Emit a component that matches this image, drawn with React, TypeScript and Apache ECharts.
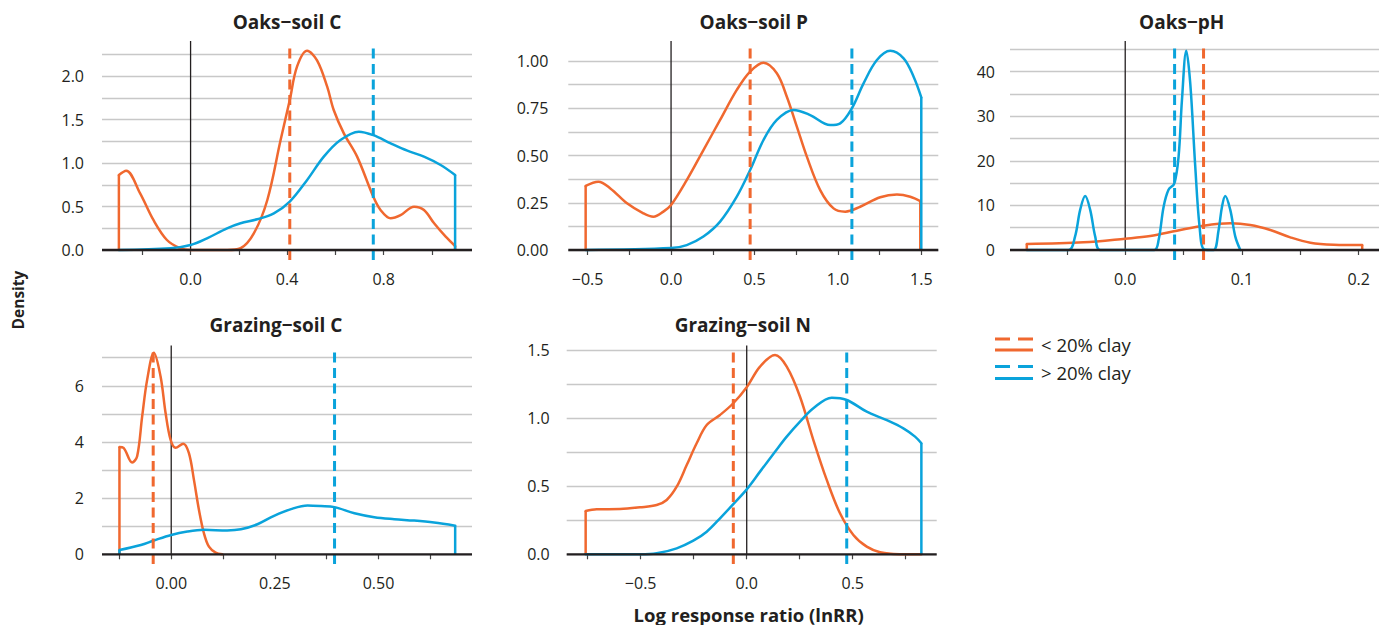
import React, { useEffect, useRef } from "react";
import * as echarts from "echarts";

type Pt = [number, number];

// ---------- data ----------
const panelTitles = ["Oaks\u2212soil C", "Oaks\u2212soil P", "Oaks\u2212pH", "Grazing\u2212soil C", "Grazing\u2212soil N"];
const legendLabels = ["< 20% clay", "> 20% clay"];
const xAxisTitle = "Log response ratio (lnRR)";
const yAxisTitle = "Density";

// Oaks–soil C
const oaksSoilCLow: Pt[] = [[-0.297,0.862],[-0.267,0.912],[-0.209,0.651],[-0.154,0.345],[-0.098,0.115],[-0.043,0.02],[0.0,0.0],[0.151,0.0],[0.207,0.02],[0.262,0.19],[0.318,0.575],[0.373,1.264],[0.411,1.724],[0.441,2.107],[0.483,2.29],[0.524,2.18],[0.566,1.877],[0.593,1.609],[0.635,1.341],[0.69,1.073],[0.757,0.613],[0.787,0.46],[0.829,0.364],[0.87,0.4],[0.926,0.498],[0.967,0.46],[1.009,0.307],[1.057,0.153],[1.096,0.046]];
const oaksSoilCHigh: Pt[] = [[-0.297,0],[-0.082,0.02],[0,0.057],[0.068,0.134],[0.151,0.249],[0.207,0.307],[0.276,0.353],[0.345,0.421],[0.411,0.556],[0.483,0.805],[0.552,1.073],[0.621,1.264],[0.697,1.36],[0.757,1.32],[0.829,1.226],[0.898,1.142],[0.967,1.073],[1.036,0.977],[1.096,0.862]];

// Oaks–soil P
const oaksSoilPLow: Pt[] = [[-0.512,0.339],[-0.436,0.361],[-0.364,0.326],[-0.264,0.247],[-0.166,0.194],[-0.106,0.176],[-0.046,0.203],[0,0.238],[0.094,0.37],[0.194,0.529],[0.294,0.688],[0.394,0.847],[0.474,0.944],[0.554,0.991],[0.634,0.935],[0.694,0.811],[0.754,0.653],[0.814,0.494],[0.894,0.317],[0.974,0.22],[1.044,0.203],[1.134,0.229],[1.254,0.279],[1.354,0.293],[1.434,0.282],[1.494,0.259]];
const oaksSoilPHigh: Pt[] = [[-0.512,0],[0,0.01],[0.094,0.026],[0.194,0.071],[0.294,0.15],[0.394,0.282],[0.474,0.423],[0.554,0.582],[0.634,0.688],[0.734,0.741],[0.834,0.714],[0.954,0.661],[1.014,0.67],[1.084,0.75],[1.154,0.882],[1.234,1.005],[1.314,1.054],[1.394,1.014],[1.454,0.917],[1.5,0.808]];

// Oaks–pH
const oaksPHLow: Pt[] = [[-0.0843,1.35],[-0.0357,1.72],[0,2.54],[0.0214,3.14],[0.0443,4.33],[0.0671,5.45],[0.09,5.98],[0.1071,5.6],[0.1243,4.48],[0.1414,2.84],[0.1586,1.64],[0.1786,1.2],[0.203,1.12]];
const oaksPHHigh: Pt[] = [[-0.0843,0],[-0.0486,0],[-0.043,3.0],[-0.0386,9.0],[-0.0343,12.1],[-0.03,9.0],[-0.0257,3.0],[-0.0214,0],[0.0249,0],[0.0286,2.24],[0.0329,9.7],[0.0371,13.5],[0.042,14.9],[0.0457,20.9],[0.0486,33.6],[0.0523,44.7],[0.0557,37.4],[0.06,18.7],[0.0637,5.2],[0.0677,0.1],[0.0757,0],[0.08,4.5],[0.0829,9.7],[0.0857,12.1],[0.09,9.0],[0.0943,3.0],[0.0986,0]];

// Grazing–soil C
const grazingSoilCLow: Pt[] = [[-0.1249,3.82],[-0.115,3.79],[-0.0943,3.27],[-0.0822,3.49],[-0.0701,4.91],[-0.058,6.22],[-0.0419,7.18],[-0.0258,6.34],[-0.0137,5.04],[-0.0016,4.08],[0.0105,3.79],[0.029,3.94],[0.0427,3.6],[0.0548,2.65],[0.0669,1.58],[0.0789,0.75],[0.091,0.27],[0.1071,0.06],[0.1232,0]];
const grazingSoilCHigh: Pt[] = [[-0.1249,0.15],[-0.0733,0.33],[-0.042,0.49],[0,0.69],[0.039,0.81],[0.079,0.87],[0.135,0.85],[0.168,0.89],[0.208,1.07],[0.248,1.37],[0.289,1.61],[0.329,1.74],[0.361,1.72],[0.394,1.68],[0.442,1.46],[0.49,1.32],[0.538,1.25],[0.586,1.2],[0.634,1.13],[0.685,1.02]];

// Grazing–soil N
const grazingSoilNLow: Pt[] = [[-0.7596,0.318],[-0.7077,0.33],[-0.5976,0.332],[-0.5033,0.345],[-0.4247,0.362],[-0.3775,0.399],[-0.3303,0.496],[-0.283,0.655],[-0.236,0.815],[-0.1887,0.949],[-0.1259,1.023],[-0.0632,1.109],[0,1.226],[0.0627,1.378],[0.1335,1.463],[0.1887,1.378],[0.2514,1.157],[0.3143,0.839],[0.3774,0.546],[0.44,0.301],[0.503,0.142],[0.566,0.056],[0.6288,0.015],[0.6918,0.003],[0.755,0],[0.8237,0]];
const grazingSoilNHigh: Pt[] = [[-0.7596,0],[-0.5033,0],[-0.4247,0.007],[-0.3303,0.044],[-0.2517,0.1],[-0.1887,0.166],[-0.1259,0.264],[-0.0632,0.369],[0,0.477],[0.0627,0.607],[0.1335,0.753],[0.1887,0.864],[0.2514,0.974],[0.3143,1.072],[0.401,1.15],[0.4717,1.133],[0.566,1.047],[0.6604,0.985],[0.7388,0.925],[0.7939,0.864],[0.8237,0.815]];

const lowCurves: Pt[][] = [oaksSoilCLow, oaksSoilPLow, oaksPHLow, grazingSoilCLow, grazingSoilNLow];
const highCurves: Pt[][] = [oaksSoilCHigh, oaksSoilPHigh, oaksPHHigh, grazingSoilCHigh, grazingSoilNHigh];

// mean lines (dashed)
const meanLow = [0.411, 0.474, 0.0671, -0.0435, -0.0632];
const meanHigh = [0.757, 1.084, 0.0423, 0.394, 0.4717];

// axis ticks / labels
const xTicks = [
  [-0.2, 0, 0.2, 0.4, 0.6, 0.8, 1.0],
  [-0.5, -0.25, 0, 0.25, 0.5, 0.75, 1.0, 1.25, 1.5],
  [-0.05, 0, 0.05, 0.1, 0.15, 0.2],
  [-0.125, 0, 0.125, 0.25, 0.375, 0.5, 0.625],
  [-0.75, -0.5, -0.25, 0, 0.25, 0.5, 0.75],
];
const xLabels = [
  [0, 0.4, 0.8],
  [-0.5, 0, 0.5, 1.0, 1.5],
  [0, 0.1, 0.2],
  [0, 0.25, 0.5],
  [-0.5, 0, 0.5],
];
const xDigits = [1, 1, 1, 2, 1];
const xRange: [number, number][] = [[-0.367, 1.166], [-0.616, 1.602], [-0.0987, 0.2174], [-0.167, 0.7256], [-0.849, 0.896]];
const yMax = [2.25, 1.0, 45, 7, 1.5];
const yGridStep = [0.25, 0.125, 5, 1, 0.25];
const yLabelStep = [0.5, 0.25, 10, 2, 0.5];
const yDigits = [1, 2, 0, 0, 1];

// ---------- layout / style ----------
const ORANGE = "#F0682F";
const BLUE = "#0AA3DB";
const INK = "#231F20";
const GRIDC = "#C8C8C8";
const FONT = "'Open Sans', 'Noto Sans', sans-serif";

const layout = [
  { left: 102, top: 54.25, width: 370, height: 195.75, yMargin: 18, panelTop: 41, panelBottom: 260, titleX: 287, titleY: 21.5 },
  { left: 568.3, top: 61, width: 370, height: 189, yMargin: 20, panelTop: 41, panelBottom: 260, titleX: 753.7, titleY: 21.5 },
  { left: 1010, top: 49.3, width: 369, height: 200.7, yMargin: 15, panelTop: 41, panelBottom: 260, titleX: 1181.7, titleY: 21.5 },
  { left: 102, top: 357.7, width: 370, height: 196.6, yMargin: 18, panelTop: 345.5, panelBottom: 564, titleX: 276, titleY: 325 },
  { left: 566.7, top: 350, width: 370, height: 204.3, yMargin: 17, panelTop: 345.5, panelBottom: 564, titleX: 742.8, titleY: 325 },
];

const isMult = (v: number, s: number) => Math.abs(v / s - Math.round(v / s)) < 1e-6;
const fmt = (v: number, d: number) => {
  const s = Math.abs(v).toFixed(d);
  return v < -1e-9 ? "\u2212" + s : s;
};

function buildOption() {
  const grid: any[] = [];
  const xAxis: any[] = [];
  const yAxis: any[] = [];
  const series: any[] = [];
  const graphic: any[] = [];

  layout.forEach((L, i) => {
    grid.push({ left: L.left, top: L.top, width: L.width, height: L.height, containLabel: false });
    xAxis.push({
      type: "value",
      gridIndex: i,
      min: xRange[i][0],
      max: xRange[i][1],
      axisLine: { show: false },
      axisTick: { show: true, customValues: xTicks[i], length: 5, lineStyle: { color: "#444", width: 1.2 } },
      axisLabel: {
        customValues: xLabels[i],
        formatter: (v: number) => fmt(v, xDigits[i]),
        color: INK,
        fontSize: 16,
        fontFamily: FONT,
        margin: 21,
      },
      splitLine: { show: false },
    });
    yAxis.push({
      type: "value",
      gridIndex: i,
      min: 0,
      max: yMax[i],
      interval: yGridStep[i],
      axisLine: { show: false },
      axisTick: { show: false },
      axisLabel: {
        formatter: (v: number) => (isMult(v, yLabelStep[i]) ? fmt(v, yDigits[i]) : ""),
        color: INK,
        fontSize: 16,
        fontFamily: FONT,
        margin: L.yMargin,
      },
      splitLine: { show: true, lineStyle: { color: GRIDC, width: 1.3 } },
    });

    const pxPerUnit = L.height / yMax[i];
    const topVal = (L.top + L.height - L.panelTop) / pxPerUnit;
    const botVal = -(L.panelBottom - (L.top + L.height)) / pxPerUnit;

    const base = { xAxisIndex: i, yAxisIndex: i, type: "line", symbol: "none", clip: false, silent: true, animation: false };

    // zero reference line
    series.push({ ...base, data: [[0, 0], [0, topVal]], lineStyle: { color: INK, width: 1.3 } });

    const addCurve = (pts: Pt[], color: string) => {
      series.push({ ...base, data: pts, smooth: 0.35, lineStyle: { color, width: 2.5, cap: "round", join: "round" } });
      const f = pts[0];
      const l = pts[pts.length - 1];
      series.push({ ...base, data: [[f[0], 0], f], lineStyle: { color, width: 2.5 } });
      series.push({ ...base, data: [l, [l[0], 0]], lineStyle: { color, width: 2.5 } });
    };
    addCurve(lowCurves[i], ORANGE);
    addCurve(highCurves[i], BLUE);

    // dashed mean lines
    const dashTop = topVal - 0.015 * (topVal - botVal);
    series.push({ ...base, data: [[meanLow[i], botVal], [meanLow[i], dashTop]], lineStyle: { color: ORANGE, width: 3, type: [10, 5.5] } });
    series.push({ ...base, data: [[meanHigh[i], botVal], [meanHigh[i], dashTop]], lineStyle: { color: BLUE, width: 3, type: [10, 5.5] } });

    // baseline (drawn on top of curves)
    series.push({ ...base, data: [[xRange[i][0], 0], [xRange[i][1], 0]], lineStyle: { color: INK, width: 2.3 } });

    graphic.push({
      type: "text",
      x: L.titleX,
      y: L.titleY,
      style: { text: panelTitles[i], fill: INK, font: `bold 19px ${FONT}`, align: "center", verticalAlign: "middle", textAlign: "center", textVerticalAlign: "middle" },
    });
  });

  graphic.push({
    type: "text",
    x: 18,
    y: 300,
    rotation: Math.PI / 2,
    style: { text: yAxisTitle, fill: INK, font: `bold 15.5px ${FONT}`, align: "center", verticalAlign: "middle", textAlign: "center", textVerticalAlign: "middle" },
  });
  graphic.push({
    type: "text",
    x: 748.7,
    y: 614,
    style: { text: xAxisTitle, fill: INK, font: `bold 18.5px ${FONT}`, align: "center", verticalAlign: "middle", textAlign: "center", textVerticalAlign: "middle" },
  });

  // legend
  const legendColors = [ORANGE, BLUE];
  const legendRows = [{ dashY: 339, solidY: 350, textY: 344.5 }, { dashY: 366.5, solidY: 378.5, textY: 372 }];
  legendRows.forEach((r, k) => {
    graphic.push({ type: "line", shape: { x1: 995, y1: r.dashY, x2: 1033, y2: r.dashY }, style: { stroke: legendColors[k], lineWidth: 3, lineDash: [15, 8] } });
    graphic.push({ type: "line", shape: { x1: 995, y1: r.solidY, x2: 1033, y2: r.solidY }, style: { stroke: legendColors[k], lineWidth: 3 } });
    graphic.push({
      type: "text",
      x: 1041,
      y: r.textY,
      style: { text: legendLabels[k], fill: INK, font: `18.5px ${FONT}`, align: "left", verticalAlign: "middle", textAlign: "left", textVerticalAlign: "middle" },
    });
  });

  return { animation: false, backgroundColor: "#ffffff", grid, xAxis, yAxis, series, graphic };
}

export default function App() {
  const ref = useRef<HTMLDivElement>(null);
  useEffect(() => {
    if (!ref.current) return;
    const chart = echarts.init(ref.current, undefined, { renderer: "svg" });
    chart.setOption(buildOption() as any);
    return () => chart.dispose();
  }, []);
  return <div ref={ref} style={{ position: "fixed", left: 0, top: 0, width: 1389, height: 625, background: "#fff" }} />;
}
